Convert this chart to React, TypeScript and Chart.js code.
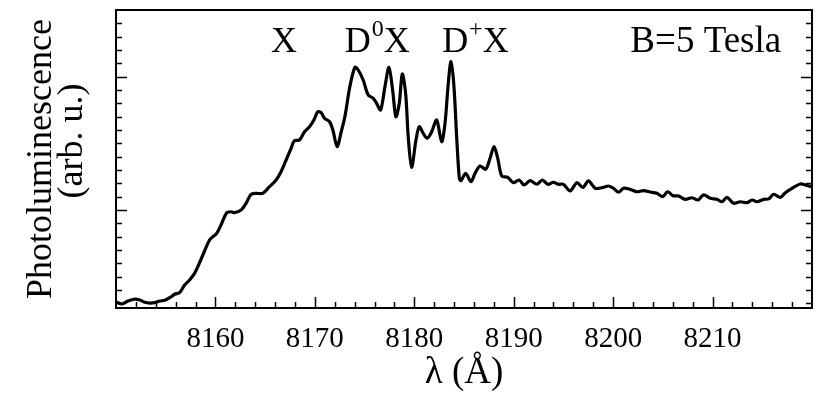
import React, { useEffect, useRef } from "react";
import { Chart, registerables } from "chart.js";

Chart.register(...registerables);

// ---- data ----
const wavelength = [
  8150.0, 8150.6, 8151.2, 8151.9, 8152.4, 8152.9, 8153.4, 8153.9, 8154.4, 8154.9,
  8155.4, 8155.9, 8156.4, 8156.9, 8157.4, 8157.9, 8158.45, 8158.95, 8159.46, 8160.13,
  8160.63, 8161.14, 8161.57, 8161.91, 8162.58, 8163.08, 8163.58, 8164.09, 8164.76, 8165.44,
  8166.1, 8166.6, 8167.11, 8167.61, 8167.95, 8168.46, 8168.96, 8169.46, 8169.9, 8170.3,
  8170.63, 8170.97, 8171.48, 8171.81, 8172.24, 8172.65, 8173.02, 8173.52, 8174.03, 8174.36,
  8174.86, 8175.36, 8175.87, 8176.21, 8176.61, 8177.05, 8177.45, 8177.82, 8178.15, 8178.49,
  8178.79, 8179.13, 8179.39, 8179.73, 8180.17, 8180.5, 8180.9, 8181.3, 8181.75, 8182.25,
  8182.75, 8183.09, 8183.42, 8183.69, 8183.99, 8184.26, 8184.53, 8184.7, 8185.17, 8185.7,
  8186.11, 8186.61, 8187.18, 8187.62, 8188.02, 8188.39, 8188.8, 8189.4, 8189.96, 8190.54,
  8191.04, 8191.65, 8192.32, 8192.88, 8193.43, 8193.99, 8194.49, 8195.0, 8195.67, 8196.35,
  8196.95, 8197.52, 8198.19, 8198.86, 8199.53, 8200.03, 8200.54, 8201.04, 8201.71, 8202.39,
  8203.05, 8203.73, 8204.4, 8205.01, 8205.47, 8206.01, 8206.58, 8207.25, 8207.93, 8208.53,
  8209.09, 8209.77, 8210.44, 8210.95, 8211.45, 8212.11, 8212.79, 8213.46, 8213.97, 8214.47,
  8215.14, 8215.64, 8216.14, 8216.82, 8217.32, 8217.99, 8218.83, 8219.33, 8219.94,
];

const intensity = [
  0.31, 0.295, 0.317, 0.332, 0.325, 0.308, 0.302, 0.305, 0.317, 0.323,
  0.342, 0.368, 0.38, 0.437, 0.475, 0.525, 0.612, 0.7, 0.78, 0.825,
  0.9, 0.98, 0.987, 0.98, 1.0, 1.05, 1.118, 1.125, 1.125, 1.175,
  1.225, 1.287, 1.375, 1.463, 1.52, 1.525, 1.587, 1.625, 1.675, 1.737,
  1.73, 1.688, 1.662, 1.6, 1.475, 1.587, 1.7, 1.925, 2.07, 2.05,
  1.975, 1.863, 1.838, 1.8, 1.75, 1.925, 2.07, 1.9, 1.7, 1.8,
  2.02, 1.875, 1.55, 1.32, 1.525, 1.625, 1.575, 1.538, 1.587, 1.675,
  1.512, 1.65, 1.95, 2.112, 1.925, 1.55, 1.238, 1.22, 1.275, 1.212,
  1.275, 1.33, 1.305, 1.388, 1.475, 1.388, 1.255, 1.245, 1.205, 1.225,
  1.188, 1.22, 1.193, 1.225, 1.193, 1.208, 1.193, 1.193, 1.143, 1.205,
  1.17, 1.218, 1.163, 1.167, 1.18, 1.163, 1.133, 1.163, 1.155, 1.137,
  1.145, 1.135, 1.125, 1.1, 1.137, 1.107, 1.105, 1.08, 1.092, 1.075,
  1.113, 1.088, 1.08, 1.062, 1.095, 1.05, 1.062, 1.055, 1.075, 1.062,
  1.08, 1.083, 1.118, 1.095, 1.13, 1.163, 1.195, 1.188, 1.175,
];

const xTickValues = [8160, 8170, 8180, 8190, 8200, 8210];
const yMajorTickValues = [1, 2];

const peakBase = ["X", "D", "D"];
const peakSup = ["", "0", "+"];
const peakTail = ["", "X", "X"];
const peakAnchor = [8165.6, 8173.0, 8182.8];
const fieldLabel = "B=5 Tesla";
const fieldAnchor = 8216.9;
const labelLevel = 2.185;

const X_MIN = 8150;
const X_MAX = 8220;
const Y_MIN = 0.265;
const Y_MAX = 2.5;

const SERIF = "'Liberation Serif', 'Times New Roman', Times, serif";

const framePlugin = {
  id: "frameAndTicks",
  afterDatasetsDraw(chart: any) {
    const { ctx, chartArea: a, scales } = chart;
    const xs = scales.x;
    const ys = scales.y;
    ctx.save();
    ctx.strokeStyle = "#000";
    ctx.lineWidth = 1.5;
    ctx.beginPath();
    // x ticks (minor every 2 Å, major every 10 Å)
    for (let v = X_MIN + 2; v < X_MAX; v += 2) {
      const major = xTickValues.includes(v);
      const len = major ? 11 : 6;
      const px = Math.round(xs.getPixelForValue(v)) + 0.5;
      ctx.moveTo(px, a.bottom);
      ctx.lineTo(px, a.bottom - len);
    }
    // y ticks (minor every 0.1, major at 1 and 2) on left and right
    for (let k = Math.ceil(Y_MIN * 10); k <= Math.floor(Y_MAX * 10 - 0.5); k++) {
      const v = k / 10;
      const major = yMajorTickValues.some((m) => Math.abs(m - v) < 1e-6);
      const len = major ? 11 : 6;
      const py = Math.round(ys.getPixelForValue(v)) + 0.5;
      ctx.moveTo(a.left, py);
      ctx.lineTo(a.left + len, py);
      ctx.moveTo(a.right, py);
      ctx.lineTo(a.right - len, py);
    }
    ctx.stroke();
    ctx.lineWidth = 2;
    ctx.strokeRect(a.left, a.top, a.right - a.left, a.bottom - a.top);

    // peak labels
    ctx.fillStyle = "#000";
    ctx.textBaseline = "alphabetic";
    ctx.textAlign = "left";
    const baseY = ys.getPixelForValue(labelLevel);
    for (let i = 0; i < peakBase.length; i++) {
      let x = xs.getPixelForValue(peakAnchor[i]);
      ctx.font = `36px ${SERIF}`;
      ctx.fillText(peakBase[i], x, baseY);
      x += ctx.measureText(peakBase[i]).width;
      if (peakSup[i]) {
        ctx.font = `24px ${SERIF}`;
        ctx.fillText(peakSup[i], x + 1, baseY - 16);
        x += ctx.measureText(peakSup[i]).width + 1;
      }
      if (peakTail[i]) {
        ctx.font = `36px ${SERIF}`;
        ctx.fillText(peakTail[i], x, baseY);
      }
    }
    ctx.font = `37px ${SERIF}`;
    ctx.textAlign = "right";
    ctx.fillText(fieldLabel, xs.getPixelForValue(fieldAnchor), baseY);
    ctx.restore();
  },
};

export default function App() {
  const ref = useRef<HTMLCanvasElement>(null);

  useEffect(() => {
    if (!ref.current) return;
    const points = wavelength.map((w, i) => ({ x: w, y: intensity[i] }));
    const chart = new Chart(ref.current, {
      type: "line",
      data: {
        datasets: [
          {
            data: points,
            borderColor: "#000",
            borderWidth: 3.2,
            pointRadius: 0,
            tension: 0.3,
            fill: false,
          },
        ],
      },
      options: {
        responsive: false,
        animation: false,
        devicePixelRatio: 1,
        layout: { padding: { left: 0, top: 10, right: 18, bottom: 0 } },
        plugins: {
          legend: { display: false },
          tooltip: { enabled: false },
        },
        scales: {
          x: {
            type: "linear",
            min: X_MIN,
            max: X_MAX,
            grid: { display: false },
            border: { display: false },
            afterBuildTicks: (s: any) => {
              s.ticks = xTickValues.map((v) => ({ value: v }));
            },
            afterFit: (s: any) => {
              s.height = 102;
            },
            ticks: {
              color: "#000",
              font: { family: SERIF, size: 29 },
              padding: 6,
              maxRotation: 0,
              autoSkip: false,
              callback: (v: any) => String(v),
            },
            title: {
              display: true,
              text: "λ (Å)",
              color: "#000",
              font: { family: SERIF, size: 37 },
              padding: { top: 0, bottom: 15 },
            },
          },
          y: {
            type: "linear",
            min: Y_MIN,
            max: Y_MAX,
            grid: { display: false },
            border: { display: false },
            ticks: { display: false },
            afterFit: (s: any) => {
              s.width = 116;
            },
            title: {
              display: true,
              text: ["Photoluminescence", "    (arb. u.)"],
              color: "#000",
              font: { family: SERIF, size: 36, lineHeight: "31px" },
              padding: { top: 26, bottom: 0 },
            },
          },
        },
      },
      plugins: [framePlugin],
    } as any);
    return () => chart.destroy();
  }, []);

  return (
    <div
      style={{
        position: "absolute",
        left: 0,
        top: 0,
        width: 830,
        height: 410,
        background: "#fff",
      }}
    >
      <canvas ref={ref} width={830} height={410} style={{ display: "block" }} />
    </div>
  );
}
